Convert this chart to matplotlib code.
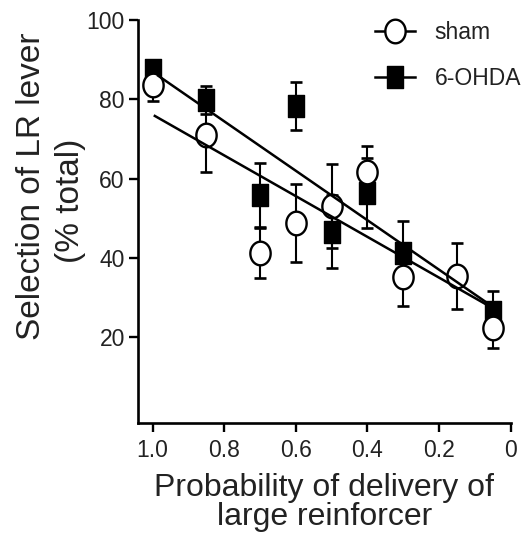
import numpy as np
import matplotlib
matplotlib.use("Agg")
import matplotlib.pyplot as plt
from matplotlib.path import Path
from matplotlib.lines import Line2D

plt.rcParams['font.family'] = ['Liberation Sans', 'DejaVu Sans']

# ---- data ----
sham_p = [1.0, 0.85, 0.7, 0.6, 0.5, 0.4, 0.3, 0.15, 0.05]
sham_mean = [83.6, 71.0, 41.3, 48.7, 53.1, 61.7, 35.1, 35.4, 22.2]
sham_sem = [4.0, 9.3, 6.3, 9.8, 10.6, 6.5, 7.4, 8.4, 5.0]

ohda_p = [1.0, 0.85, 0.7, 0.6, 0.5, 0.4, 0.3, 0.05]
ohda_mean = [87.4, 79.8, 55.8, 78.3, 46.6, 56.3, 41.3, 26.4]
ohda_sem = [2.3, 3.6, 8.0, 6.0, 9.2, 8.8, 8.1, 5.2]

# linear fits (slope, intercept, x range)
sham_fit = [51.4, 24.7]
sham_fit_x = [0.994, 0.05]
ohda_fit = [62.4, 24.5]
ohda_fit_x = [0.985, 0.05]

x_ticks = [1.0, 0.8, 0.6, 0.4, 0.2, 0.0]
x_ticklabels = ["1.0", "0.8", "0.6", "0.4", "0.2", "0"]
y_ticks = [20, 40, 60, 80, 100]

# ---- markers (slightly tall, as in the reference) ----
t = np.linspace(0, 2 * np.pi, 80)
ellipse = Path(np.column_stack([0.86 * np.cos(t), np.sin(t)]), closed=True)
rect = Path([(-0.7, -1), (0.7, -1), (0.7, 1), (-0.7, 1), (-0.7, -1)], closed=True)

W, H = 529, 533
fig = plt.figure(figsize=(W / 100, H / 100), dpi=100)
ax = fig.add_axes([138 / W, 1 - 423 / H, (510.7 - 138) / W, (423 - 20) / H])

ax.errorbar(ohda_p, ohda_mean, yerr=ohda_sem, fmt='none', ecolor='k',
            elinewidth=1.5, capsize=4, capthick=1.9, zorder=2)
ax.errorbar(sham_p, sham_mean, yerr=sham_sem, fmt='none', ecolor='k',
            elinewidth=1.5, capsize=4, capthick=1.9, zorder=2)

ax.plot(ohda_p, ohda_mean, linestyle='none', marker=rect, markersize=15.5,
        markerfacecolor='k', markeredgecolor='k', markeredgewidth=1, zorder=3)
ax.plot(sham_p, sham_mean, linestyle='none', marker=ellipse, markersize=17,
        markerfacecolor='white', markeredgecolor='k', markeredgewidth=1.7, zorder=4)

for fit, fx in ((sham_fit, sham_fit_x), (ohda_fit, ohda_fit_x)):
    fx = np.array(fx)
    ax.plot(fx, fit[0] * fx + fit[1], color='k', lw=1.8, zorder=5)

ax.set_xlim(1.041, 0.0)
ax.set_ylim(-1.7, 100)
ax.set_xticks(x_ticks)
ax.set_xticklabels(x_ticklabels)
ax.set_yticks(y_ticks)
ax.spines['top'].set_visible(False)
ax.spines['right'].set_visible(False)
for s in ('left', 'bottom'):
    ax.spines[s].set_linewidth(1.9)
ax.tick_params(axis='x', length=6.5, width=1.7, labelsize=16.5, pad=5, colors='k')
ax.tick_params(axis='y', length=6.5, width=1.7, labelsize=16.5, pad=3, colors='k')
for lab in ax.get_xticklabels() + ax.get_yticklabels():
    lab.set_color('#222222')

# axis labels
ax.set_xlabel("Probability of delivery of\nlarge reinforcer", fontsize=23,
              linespacing=0.95, labelpad=8, color='#222222')
fig.text(40 / W, 1 - 186.5 / H, "Selection of LR lever", rotation=90,
         rotation_mode='anchor', ha='center', va='baseline', fontsize=24, color='#222222')
fig.text(79 / W, 1 - 200.5 / H, "(% total)", rotation=90,
         rotation_mode='anchor', ha='center', va='baseline', fontsize=24, color='#222222')

# legend
handles = [
    Line2D([], [], color='k', lw=1.8, marker=ellipse, markersize=17,
           markerfacecolor='white', markeredgecolor='k', markeredgewidth=1.7),
    Line2D([], [], color='k', lw=1.8, marker=rect, markersize=15.5,
           markerfacecolor='k', markeredgecolor='k'),
]
fig.legend(handles, ["sham", "6-OHDA"], loc='upper left',
           bbox_to_anchor=(375 / W, 1 - 21 / H), frameon=False, fontsize=16.5,
           handlelength=1.75, handletextpad=0.85, labelspacing=1.0,
           borderpad=0, borderaxespad=0, labelcolor='#222222')

fig.savefig("out.png", dpi=100)
